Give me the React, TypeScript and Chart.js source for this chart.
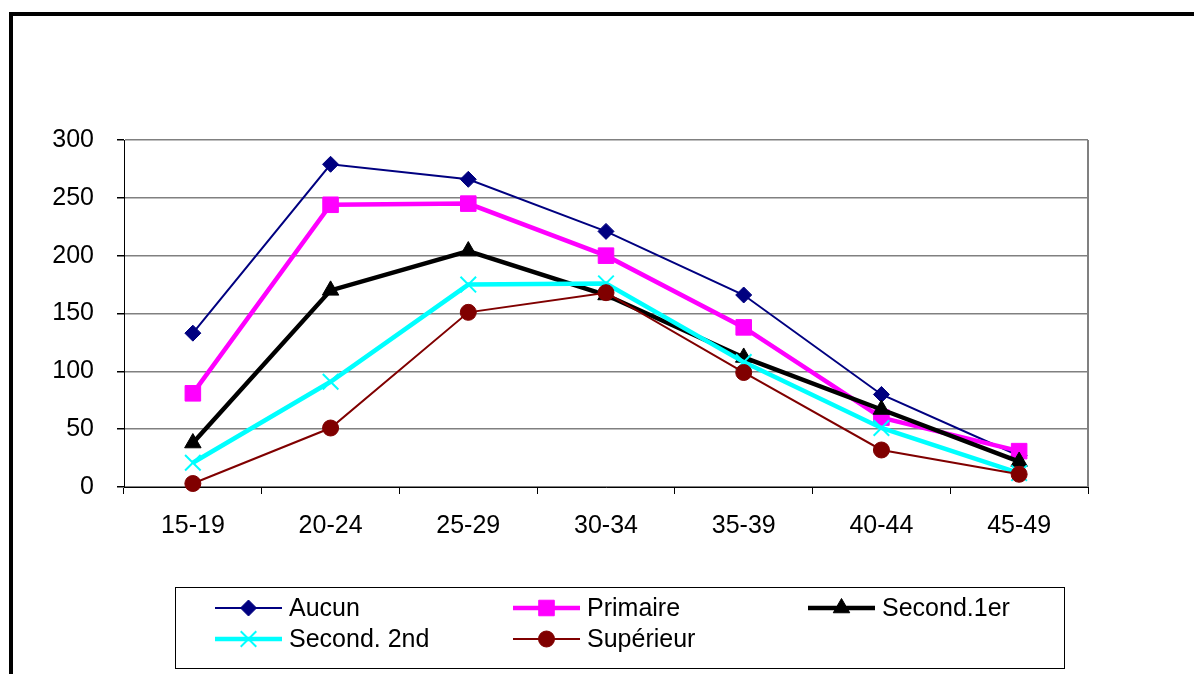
import React, { useEffect, useRef } from "react";
import { Chart, registerables } from "chart.js";
import * as helpers from "chart.js/helpers";

Chart.register(...registerables);

const categories = ["15-19", "20-24", "25-29", "30-34", "35-39", "40-44", "45-49"];
const aucun = [133, 279, 266, 221, 166, 80, 27];
const primaire = [81, 244, 245, 200, 138, 60, 31];
const second1er = [38, 170, 204, 166, 112, 67, 22];
const second2nd = [21, 91, 175, 176, 108, 51, 12];
const superieur = [3, 51, 151, 168, 99, 32, 11];
const seriesNames = ["Aucun", "Primaire", "Second.1er", "Second. 2nd", "Supérieur"];
const yTicks = [0, 50, 100, 150, 200, 250, 300];

const FONT = "'Liberation Sans', Arial, sans-serif";

type Style = {
  color: string;
  width: number;
  pointStyle: string;
  radius: number;
  pointBorderWidth: number;
};

const styles: Style[] = [
  { color: "#000080", width: 2, pointStyle: "rectRot", radius: 8, pointBorderWidth: 1 },
  { color: "#FF00FF", width: 4.5, pointStyle: "rect", radius: 11, pointBorderWidth: 1 },
  { color: "#000000", width: 4.5, pointStyle: "triangle", radius: 9.5, pointBorderWidth: 1 },
  { color: "#00FFFF", width: 4.5, pointStyle: "crossRot", radius: 11, pointBorderWidth: 2 },
  { color: "#800000", width: 2, pointStyle: "circle", radius: 8, pointBorderWidth: 1 },
];

const seriesData = [aucun, primaire, second1er, second2nd, superieur];

const decorPlugin = {
  id: "decor",
  afterDraw(chart: any) {
    const ctx = chart.ctx;
    const area = chart.chartArea;
    ctx.save();
    // outer frame
    ctx.fillStyle = "#000";
    ctx.fillRect(9, 12, 1194, 4);
    ctx.fillRect(9, 12, 4, 674);
    // right plot border
    ctx.strokeStyle = "#808080";
    ctx.lineWidth = 2;
    ctx.beginPath();
    ctx.moveTo(area.right, area.top);
    ctx.lineTo(area.right, area.bottom);
    ctx.stroke();
    // legend box
    ctx.strokeStyle = "#000";
    ctx.lineWidth = 1;
    ctx.strokeRect(175.5, 587.5, 889, 81);
    const cols = [215, 513, 808];
    const rows = [608, 639];
    ctx.font = "25px " + FONT;
    ctx.textBaseline = "middle";
    ctx.textAlign = "left";
    seriesNames.forEach((name, i) => {
      const s = styles[i];
      const x = cols[i % 3];
      const y = rows[Math.floor(i / 3)];
      ctx.strokeStyle = s.color;
      ctx.lineWidth = s.width;
      ctx.beginPath();
      ctx.moveTo(x, y);
      ctx.lineTo(x + 67, y);
      ctx.stroke();
      ctx.fillStyle = s.color;
      ctx.strokeStyle = s.color;
      ctx.lineWidth = s.pointBorderWidth;
      helpers.drawPoint(ctx, { pointStyle: s.pointStyle, radius: s.radius, rotation: 0, borderWidth: s.pointBorderWidth } as any, x + 33.5, y);
      ctx.fillStyle = "#000";
      ctx.fillText(name, x + 74, y + 1);
    });
    ctx.restore();
  },
};

export default function App() {
  const ref = useRef<HTMLCanvasElement>(null);
  useEffect(() => {
    if (!ref.current) return;
    const chart = new Chart(ref.current, {
      type: "line",
      data: {
        labels: categories,
        datasets: seriesData.map((d, i) => ({
          label: seriesNames[i],
          data: d,
          borderColor: styles[i].color,
          backgroundColor: styles[i].color,
          borderWidth: styles[i].width,
          pointStyle: styles[i].pointStyle as any,
          pointRadius: styles[i].radius,
          pointBorderWidth: styles[i].pointBorderWidth,
          pointBackgroundColor: styles[i].color,
          pointBorderColor: styles[i].color,
          tension: 0,
          fill: false,
          order: 4 - i,
          clip: false as any,
        })),
      },
      options: {
        animation: false,
        responsive: true,
        maintainAspectRatio: false,
        layout: { padding: { left: 24, top: 140, right: 106, bottom: 127 } },
        plugins: { legend: { display: false }, tooltip: { enabled: false }, title: { display: false } },
        scales: {
          x: {
            type: "category",
            offset: true,
            grid: { offset: true, drawOnChartArea: false, drawTicks: true, tickLength: 7, color: "#000" },
            border: { display: true, color: "#000", width: 1 },
            ticks: { color: "#000", font: { family: FONT, size: 25 }, padding: 17, maxRotation: 0 },
            afterFit: (scale: any) => {
              scale.height = 60;
            },
          },
          y: {
            min: 0,
            max: 300,
            afterBuildTicks: (scale: any) => {
              scale.ticks = yTicks.map((v) => ({ value: v }));
            },
            grid: { color: "#808080", lineWidth: 1.5, tickColor: "#000", tickLength: 7, drawTicks: true },
            border: { display: true, color: "#000", width: 1 },
            ticks: { color: "#000", font: { family: FONT, size: 25 }, padding: 23 },
            afterFit: (scale: any) => {
              scale.width = 100;
            },
          },
        },
      },
      plugins: [decorPlugin],
    });
    return () => chart.destroy();
  }, []);
  return (
    <div style={{ position: "absolute", left: 0, top: 0, width: 1194, height: 674, background: "#fff" }}>
      <canvas ref={ref} />
    </div>
  );
}
